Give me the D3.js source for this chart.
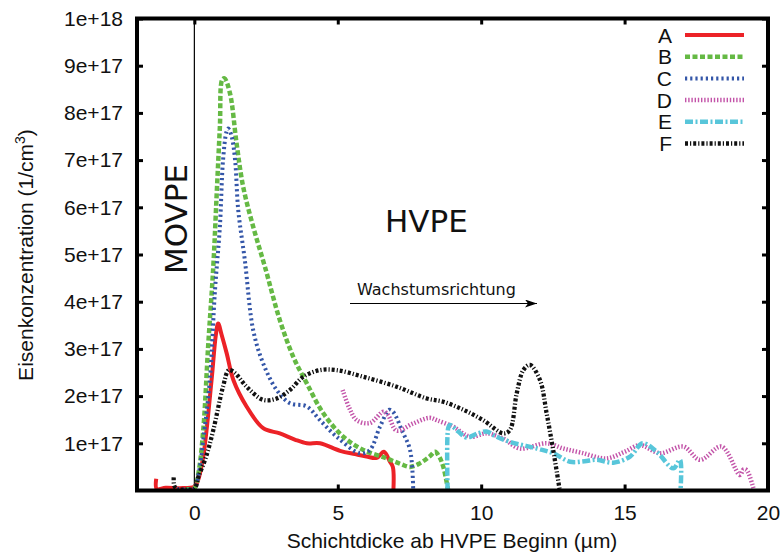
<!DOCTYPE html>
<html>
<head>
<meta charset="utf-8">
<script src="https://cdn.jsdelivr.net/npm/d3@7"></script>
<style>
  body { margin: 0; background: #fff; }
  text { font-family: "Liberation Sans", Arial, sans-serif; fill: #111; }
  .note { font-family: "DejaVu Sans", sans-serif; }
</style>
</head>
<body>
<script>
// x: Schichtdicke (µm), y: Eisenkonzentration in 1e17 /cm^3
var seriesNames = ["A", "B", "C", "D", "E", "F"];

var xA = [-1.33, -1.31, -1.0, -0.5, 0, 0.12, 0.31, 0.6, 0.75, 0.83, 0.95, 1.13, 1.36, 1.82, 2.4, 2.98, 3.5, 3.92, 4.38, 5.08, 5.6, 6.0, 6.36, 6.61, 6.82, 6.92, 6.94];
var yA = [0.25, 0.03, 0.06, 0.05, 0.08, 0.2, 0.72, 2.34, 3.3, 3.54, 3.3, 2.9, 2.34, 1.78, 1.32, 1.21, 1.08, 1.0, 1.0, 0.84, 0.77, 0.72, 0.69, 0.82, 0.61, 0.5, 0];

var xB = [-0.3, 0, 0.14, 0.31, 0.48, 0.66, 0.78, 0.89, 0.97, 1.05, 1.24, 1.47, 1.7, 2.05, 2.46, 2.98, 3.45, 3.92, 4.49, 5.19, 5.89, 6.7, 7.2, 7.52, 7.87, 8.2, 8.39, 8.55, 8.68, 8.85];
var yB = [0.03, 0.05, 0.36, 1.28, 3.05, 4.74, 6.3, 7.71, 8.7, 8.73, 8.42, 7.36, 6.44, 5.59, 4.74, 3.61, 2.83, 2.27, 1.64, 1.14, 0.86, 0.68, 0.56, 0.5, 0.58, 0.72, 0.82, 0.7, 0.5, 0];

var xC = [-0.6, -0.3, 0, 0.15, 0.31, 0.54, 0.72, 0.89, 1.0, 1.12, 1.18, 1.3, 1.42, 1.53, 1.76, 2.05, 2.4, 2.87, 3.33, 3.92, 4.38, 4.96, 5.77, 6.12, 6.47, 6.8, 6.95, 7.23, 7.52, 7.63];
var yC = [0.03, 0.02, 0.04, 0.35, 1.07, 2.34, 4.25, 5.59, 7.0, 7.6, 7.67, 7.5, 7.0, 5.94, 4.88, 3.4, 2.69, 2.13, 1.85, 1.78, 1.49, 1.14, 0.79, 0.86, 1.35, 1.71, 1.65, 1.28, 0.86, 0];

var xD = [5.17, 5.4, 5.66, 6.12, 6.59, 6.75, 7.05, 7.63, 8.2, 8.45, 9.03, 9.61, 10.19, 10.77, 11.35, 12.28, 12.86, 13.5, 14.37, 15.0, 15.54, 16.23, 17.05, 17.63, 18.38, 19.02, 19.15, 19.26, 19.49];
var yD = [2.13, 1.75, 1.49, 1.43, 1.67, 1.6, 1.27, 1.42, 1.54, 1.49, 1.35, 1.14, 1.21, 1.1, 0.89, 1.0, 0.89, 0.8, 0.68, 0.82, 0.96, 0.79, 0.93, 0.65, 0.93, 0.33, 0.45, 0.43, 0.05];

var xE = [8.83, 8.85, 8.91, 9.2, 9.49, 9.85, 10.19, 10.5, 11.0, 11.94, 12.51, 13.1, 13.6, 14.03, 14.61, 15.19, 15.63, 16.12, 16.7, 16.93, 16.95];
var yE = [0, 1.32, 1.39, 1.25, 1.12, 1.2, 1.25, 1.15, 1.03, 0.89, 0.79, 0.61, 0.62, 0.65, 0.59, 0.72, 1.0, 0.82, 0.47, 0.65, 0];

var xF = [-0.72, -0.7, -0.6, -0.3, 0, 0.14, 0.4, 0.66, 1.0, 1.2, 1.4, 1.82, 2.4, 2.87, 3.33, 3.8, 4.38, 4.96, 5.89, 7.05, 8.1, 8.68, 9.38, 10.07, 10.77, 11.0, 11.24, 11.47, 11.7, 12.05, 12.28, 12.51, 12.74];
var yF = [0.28, 0.1, 0.03, 0.02, 0.04, 0.29, 0.7, 1.28, 2.2, 2.55, 2.5, 2.2, 1.92, 1.95, 2.13, 2.41, 2.55, 2.55, 2.41, 2.2, 1.95, 1.88, 1.71, 1.49, 1.21, 1.28, 2.06, 2.55, 2.66, 2.34, 1.64, 0.86, 0];

var xTicks = [0, 5, 10, 15, 20];
var yTicks = [1e17, 2e17, 3e17, 4e17, 5e17, 6e17, 7e17, 8e17, 9e17, 1e18];

var colors = ["#ec2227", "#65b944", "#3456a8", "#c354a9", "#58c6da", "#111111"];
var widths = [4, 4.5, 4, 4.5, 4.5, 4.3];
var dashes = [null, "5,2.5", "2.2,3", "1.4,1.8", "8,2.5,2,2.5", "3,2,1.2,2"];

var allX = [xA, xB, xC, xD, xE, xF];
var allY = [yA, yB, yC, yD, yE, yF];

var width = 783,
    height = 559;

var svg = d3.select("body").append("svg")
    .attr("width", width)
    .attr("height", height);

var x = d3.scaleLinear().domain([-2, 20]).range([137, 768]);
var y = d3.scaleLinear().domain([0, 1e18]).range([490.5, 18.5]);

svg.append("clipPath").attr("id", "plotclip")
  .append("rect")
    .attr("x", x(-2)).attr("y", y(1e18))
    .attr("width", x(20) - x(-2)).attr("height", y(0) - y(1e18));

// axes (ticks inward, labels outside)
var fmt = function(d){ return d3.format(".0e")(d); };

svg.append("g")
    .attr("transform", "translate(0," + y(0) + ")")
    .call(d3.axisBottom(x).tickValues(xTicks).tickSize(-6).tickPadding(15).tickFormat(d3.format("d")))
    .call(function(g){ g.select(".domain").remove(); });

svg.append("g")
    .attr("transform", "translate(" + x(-2) + ",0)")
    .call(d3.axisLeft(y).tickValues(yTicks).tickSize(-6).tickPadding(14).tickFormat(fmt))
    .call(function(g){ g.select(".domain").remove(); });

// mirrored ticks top and right
svg.append("g")
    .attr("transform", "translate(0," + y(1e18) + ")")
    .call(d3.axisTop(x).tickValues(xTicks).tickSize(-6).tickFormat(""))
    .call(function(g){ g.select(".domain").remove(); });

svg.append("g")
    .attr("transform", "translate(" + x(20) + ",0)")
    .call(d3.axisRight(y).tickValues(yTicks).tickSize(-6).tickFormat(""))
    .call(function(g){ g.select(".domain").remove(); });

svg.selectAll(".tick line").attr("stroke", "#000").attr("stroke-width", 3);
svg.selectAll(".tick text").style("font-size", "21px").attr("fill", "#111")
  .style("font-family", "'Liberation Sans', Arial, sans-serif");

// MOVPE/HVPE boundary
svg.append("line")
    .attr("x1", x(0)).attr("x2", x(0))
    .attr("y1", y(1e18)).attr("y2", y(0))
    .attr("stroke", "#000").attr("stroke-width", 1.2);

// curves
var line = d3.line()
    .x(function(d){ return x(d[0]); })
    .y(function(d){ return y(d[1] * 1e17); })
    .curve(d3.curveCatmullRom.alpha(0.5));

var plot = svg.append("g").attr("clip-path", "url(#plotclip)");

seriesNames.forEach(function(name, i){
  var pts = d3.zip(allX[i], allY[i]);
  plot.append("path")
      .datum(pts)
      .attr("d", line)
      .attr("fill", "none")
      .attr("stroke", colors[i])
      .attr("stroke-width", widths[i])
      .attr("stroke-dasharray", dashes[i])
      .attr("stroke-linejoin", "round");
});

// frame
svg.append("rect")
    .attr("x", x(-2)).attr("y", y(1e18))
    .attr("width", x(20) - x(-2)).attr("height", y(0) - y(1e18))
    .attr("fill", "none").attr("stroke", "#000").attr("stroke-width", 4);

// legend
var legend = svg.append("g").selectAll("g")
  .data(seriesNames)
  .enter().append("g")
    .attr("transform", function(d, i){ return "translate(0," + (35 + i * 21.7) + ")"; });

legend.append("text")
    .attr("x", 672).attr("dy", "0.36em")
    .attr("text-anchor", "end")
    .style("font-size", "21px")
    .text(function(d){ return d; });

legend.append("line")
    .attr("x1", 685).attr("x2", 744)
    .attr("stroke", function(d, i){ return colors[i]; })
    .attr("stroke-width", function(d, i){ return widths[i]; })
    .attr("stroke-dasharray", function(d, i){ return dashes[i]; });

// annotations
svg.append("text")
    .attr("class", "note")
    .attr("transform", "translate(187,274) rotate(-90)")
    .style("font-size", "31px")
    .text("MOVPE");

svg.append("text")
    .attr("class", "note")
    .attr("x", 385).attr("y", 232)
    .style("font-size", "31px")
    .text("HVPE");

svg.append("text")
    .attr("class", "note")
    .attr("x", 357).attr("y", 295)
    .style("font-size", "16px")
    .text("Wachstumsrichtung");

svg.append("defs").append("marker")
    .attr("id", "arrow")
    .attr("viewBox", "0 0 12 8")
    .attr("refX", 12).attr("refY", 4)
    .attr("markerWidth", 12).attr("markerHeight", 8)
    .attr("markerUnits", "userSpaceOnUse")
    .attr("orient", "auto")
  .append("path")
    .attr("d", "M0,0 L12,4 L0,8 L3,4 Z")
    .attr("fill", "#000");

svg.append("line")
    .attr("x1", 350).attr("x2", 537)
    .attr("y1", 303.5).attr("y2", 303.5)
    .attr("stroke", "#000").attr("stroke-width", 1.2)
    .attr("marker-end", "url(#arrow)");

// axis titles
svg.append("text")
    .attr("x", 452).attr("y", 548)
    .attr("text-anchor", "middle")
    .style("font-size", "21px")
    .text("Schichtdicke ab HVPE Beginn (\u00b5m)");

var ylab = svg.append("text")
    .attr("transform", "translate(33,255) rotate(-90)")
    .attr("text-anchor", "middle")
    .style("font-size", "21px");
ylab.append("tspan").text("Eisenkonzentration (1/cm");
ylab.append("tspan").attr("dy", -8).style("font-size", "14px").text("3");
ylab.append("tspan").attr("dy", 8).text(")");
</script>
</body>
</html>
